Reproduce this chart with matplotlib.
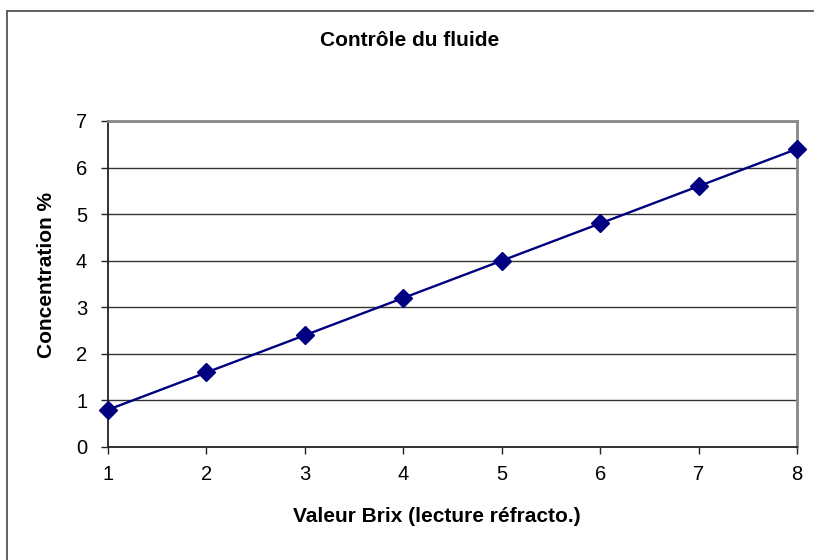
import matplotlib
matplotlib.use("Agg")
import matplotlib.pyplot as plt
from matplotlib.patches import Rectangle

brix = [1, 2, 3, 4, 5, 6, 7, 8]
concentration = [0.8, 1.6, 2.4, 3.2, 4.0, 4.8, 5.6, 6.4]
x_ticks = [1, 2, 3, 4, 5, 6, 7, 8]
y_ticks = [0, 1, 2, 3, 4, 5, 6, 7]

plt.rcParams['font.family'] = ['Liberation Sans', 'DejaVu Sans']

W, H = 814, 560
fig = plt.figure(figsize=(W / 100, H / 100), dpi=100)
fig.patch.set_facecolor('white')

# outer chart border (left/top visible)
fig.patches.append(Rectangle((7 / W, -0.1), 1.2, (H - 11) / H + 0.1,
                             transform=fig.transFigure, fill=False,
                             edgecolor='#555555', linewidth=1.3))

L, R, T, B = 108, 797, 121, 447
ax = fig.add_axes([L / W, 1 - B / H, (R - L) / W, (B - T) / H])

ax.plot(brix, concentration, color='#000080', linewidth=1.7,
        marker='D', markersize=9.5, markerfacecolor='#000080',
        markeredgecolor='#000080', clip_on=False, zorder=5)

ax.set_xlim(1, 8)
ax.set_ylim(0, 7)
ax.set_xticks(x_ticks)
ax.set_yticks(y_ticks)
ax.yaxis.grid(True, color='#333333', linewidth=1)
ax.set_axisbelow(True)

for s in ['top', 'right']:
    ax.spines[s].set_color('#888888')
    ax.spines[s].set_linewidth(2)
for s in ['left', 'bottom']:
    ax.spines[s].set_color('#222222')
    ax.spines[s].set_linewidth(1.3)

ax.tick_params(axis='both', direction='out', length=5, width=1,
               color='#222222', labelsize=14.5, labelcolor='black')
ax.tick_params(axis='x', pad=8)
ax.tick_params(axis='y', pad=10)

fig.text(410 / W, 1 - 40 / H, 'Contrôle du fluide', ha='center', va='center',
         fontsize=15, fontweight='bold')
fig.text(437 / W, 1 - 517 / H, 'Valeur Brix (lecture réfracto.)', ha='center',
         va='center', fontsize=15, fontweight='bold')
fig.text(47 / W, 1 - 275 / H, 'Concentration %', ha='center', va='center',
         rotation=90, fontsize=15, fontweight='bold')

fig.savefig('out.png', dpi=100)
